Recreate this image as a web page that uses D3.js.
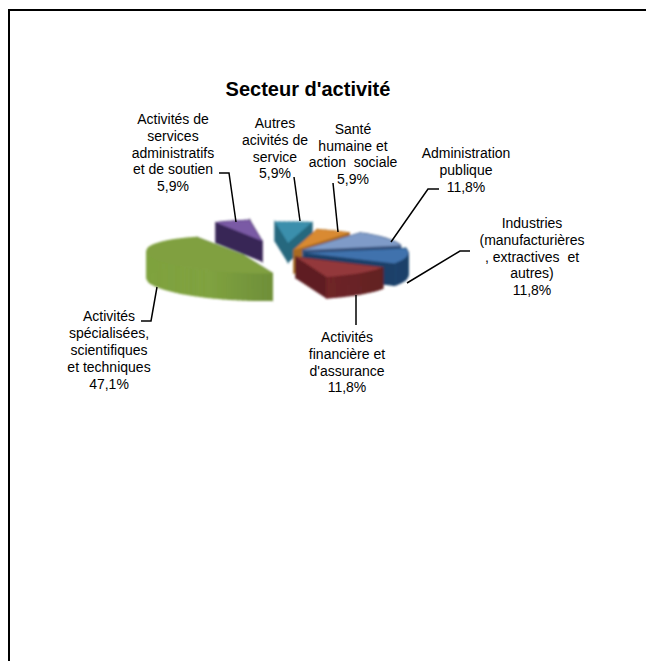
<!DOCTYPE html>
<html><head><meta charset="utf-8">
<script src="https://cdnjs.cloudflare.com/ajax/libs/d3/7.8.5/d3.min.js"></script>
<style>html,body{margin:0;padding:0;background:#fff}svg{display:block}text{font-family:"Liberation Sans",Arial,sans-serif;fill:#000}</style>
</head><body><svg id="c" width="646" height="661"></svg>
<script>
const title = "Secteur d'activité";
const categories = [
  ["Administration","publique"],
  ["Industries","(manufacturières",", extractives  et","autres)"],
  ["Activités","financière et","d'assurance"],
  ["Activités","spécialisées,","scientifiques","et techniques"],
  ["Activités de","services","administratifs","et de soutien"],
  ["Autres","acivités de","service"],
  ["Santé","humaine et","action  sociale"]
];
const values = [11.8, 11.8, 11.8, 47.1, 5.9, 5.9, 5.9];
const valueLabels = ["11,8%","11,8%","11,8%","47,1%","5,9%","5,9%","5,9%"];

// Look of each slice (same order as the data)
const topColors  = ["#7f9bc8","#3f72ad","#93383b","#80a041","#7a5aa5","#3a8fac","#d98a33"];
const wallLight  = ["#4a6a9a","#2a5c90","#7e2b2e","#7fa23f","#46306e","#2f7f9a","#b8782a"];
const wallDark   = ["#3a5580","#1b4069","#5f1f22","#5c7a33","#382557","#26677e","#a86a22"];
const centers    = [[303,250],[305,253],[296,257],[243,255],[262,241],[288,243],[294,250]];
const radiiX     = [100,103,100,96,96,100,96];
const radiiY     = [21,21,21,18,21,21,21];
const slants     = [0,0,0,0.04,0,0,0];
const depths     = [20,22,21,27,20,19,23];
const drawOrder  = [4,5,6,0,1,3,2];

// Label layout: centre x, first line centre y, line step
const labelX = [466,532,347,109,173,275,353];
const labelY = [153,223,337,316,119,123,129];
const labelStep = [17,16.8,16.8,17,16.8,16.8,16.7];
const leaders = [
  [[439,189],[428,189],[391,242]],
  [[470,251],[460,251],[407,283]],
  [[356,325],[356,295]],
  [[141,321],[151,321],[157,287]],
  [[219,173],[229,173],[236,222]],
  [[294,177],[300,221]],
  [[333,183],[338,232]]
];

const svg = d3.select("#c");
const defs = svg.append("defs");
defs.append("filter").attr("id","soft").attr("x","-5%").attr("y","-5%").attr("width","110%").attr("height","110%")
  .append("feGaussianBlur").attr("stdDeviation",0.8);

// frame
svg.append("path").attr("d","M9,661V10H646").attr("fill","none").attr("stroke","#000").attr("stroke-width",2);

svg.append("text").attr("x",308).attr("y",96).attr("text-anchor","middle")
  .attr("font-size",20).attr("font-weight","bold").text(title);

const arcs = d3.pie().sort(null).startAngle(35*Math.PI/180).endAngle(395*Math.PI/180)(values);
const line = d3.line();
const pieG = svg.append("g").attr("filter","url(#soft)");

function slice(i){
  const a = arcs[i], [cx,cy]=centers[i], h=depths[i];
  const sx = d3.scaleLinear().domain([-1,1]).range([cx-radiiX[i],cx+radiiX[i]]);
  const sy = d3.scaleLinear().domain([-1,1]).range([cy-radiiY[i],cy+radiiY[i]]);
  const n = Math.max(4,Math.ceil((a.endAngle-a.startAngle)/(Math.PI/60)));
  const angs = d3.range(n+1).map(k=>a.startAngle+(a.endAngle-a.startAngle)*k/n);
  const pts = angs.map(t=>{const x=sx(Math.sin(t));return [x,sy(-Math.cos(t))+slants[i]*(x-cx)];});
  const shade = d3.interpolateRgb(wallLight[i],wallDark[i]);
  const g = pieG.append("g");
  const quads = [];
  const radial = (p,c)=>quads.push({d:[[cx,cy],p,[p[0],p[1]+h],[cx,cy+h]],z:(cy+p[1])/2,c});
  radial(pts[0],wallDark[i]); radial(pts[n],wallDark[i]);
  for(let k=0;k<n;k++){
    const p=pts[k],q=pts[k+1],m=(angs[k]+angs[k+1])/2;
    quads.push({d:[p,q,[q[0],q[1]+h],[p[0],p[1]+h]],z:(p[1]+q[1])/2,c:shade(Math.max(0,Math.min(1,0.25+0.75*Math.sin(m))))});
  }
  quads.sort((u,v)=>u.z-v.z).forEach(o=>{
    g.append("path").attr("d",line(o.d)+"Z").attr("fill",o.c).attr("stroke",o.c).attr("stroke-width",1.2);
  });
  g.append("path").attr("d",line([[cx,cy],...pts])+"Z").attr("fill",topColors[i]);
}
drawOrder.forEach(slice);

leaders.forEach(p=>svg.append("path").attr("d",line(p)).attr("fill","none").attr("stroke","#000").attr("stroke-width",1.5));

categories.forEach((c,i)=>{
  const t = svg.append("text").attr("text-anchor","middle").attr("font-size",14).attr("xml:space","preserve");
  [...c,valueLabels[i]].forEach((s,j)=>{
    t.append("tspan").attr("x",labelX[i]).attr("y",labelY[i]+j*labelStep[i]+5).text(s);
  });
});
</script></body></html>
